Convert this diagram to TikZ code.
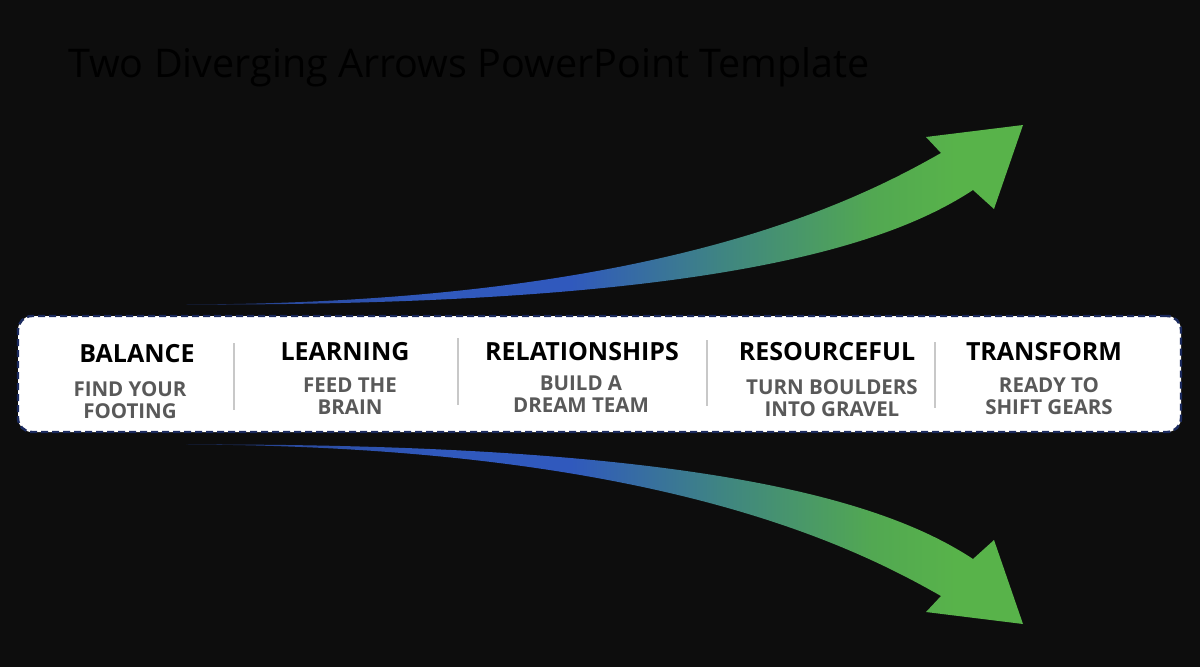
\documentclass[tikz,border=0pt]{standalone}
\usepackage{fontspec}
\setmainfont{Open Sans}
\definecolor{bgc}{HTML}{0D0D0D}
\definecolor{tailc}{HTML}{1A2A5A}
\definecolor{blueA}{HTML}{2A4A9E}
\definecolor{blueB}{HTML}{3059BD}
\definecolor{tealc}{HTML}{3F8582}
\definecolor{greenA}{HTML}{52A852}
\definecolor{greenB}{HTML}{58B34A}
\definecolor{navy}{HTML}{1B2A5E}
\definecolor{subgray}{HTML}{595959}
\definecolor{divgray}{HTML}{C8C8C8}
\pgfdeclarehorizontalshading{arrowgrad}{100bp}{color(0bp)=(tailc); color(25bp)=(tailc); color(31bp)=(blueA); color(40bp)=(blueB); color(48bp)=(blueB); color(57bp)=(tealc); color(66bp)=(greenA); color(71bp)=(greenB); color(100bp)=(greenB)}
\tikzset{
  head/.style={font=\fontsize{25}{29}\selectfont\bfseries, text=black, inner sep=0pt},
  sub/.style={font=\fontsize{20.5}{22}\selectfont\bfseries, text=subgray, align=center, inner sep=0pt},
  divider/.style={draw=divgray, line width=1.2pt},
  arrowshape/.style={shading=arrowgrad, draw=none}
}
\newcommand{\arrowpath}{(186,304.5) .. controls (650,303) and (850,205) .. (941,153) -- (926,137) -- (1023,125) -- (994,209) -- (973,190) .. controls (885,248) and (700,306) .. (186,304.5) -- cycle}
\begin{document}
\begin{tikzpicture}[x=1pt,y=-1pt]
\fill[bgc] (0,0) rectangle (1200,667);
\useasboundingbox (0,0) rectangle (1200,667);
% title
\node (title) [anchor=base west, inner sep=0pt, text=black, font=\fontsize{39.5}{44}\selectfont] at (68,77) {Two Diverging Arrows PowerPoint Template};
% arrows
\path[arrowshape] \arrowpath;
\begin{scope}[shift={(0,749)}, yscale=-1]
\path[arrowshape] \arrowpath;
\end{scope}
% band
\node (band) [fill=white, draw=navy, line width=2.4pt, dash pattern=on 7pt off 4pt, rounded corners=14pt, minimum width=1163pt, minimum height=116pt, inner sep=0pt] at (599.5,374) {};
% dividers
\draw[divider] (234,343) -- (234,410);
\draw[divider] (458,338) -- (458,405);
\draw[divider] (707,340) -- (707,406);
\draw[divider] (935,342) -- (935,408);
% columns
\node (h1) [head] at (137,354) {BALANCE};
\node (s1) [sub] at (130,400) {FIND YOUR\\FOOTING};
\node (h2) [head] at (345,352) {LEARNING};
\node (s2) [sub] at (350,396) {FEED THE\\BRAIN};
\node (h3) [head] at (582,352) {RELATIONSHIPS};
\node (s3) [sub] at (581,394) {BUILD A\\DREAM TEAM};
\node (h4) [head] at (827,352) {RESOURCEFUL};
\node (s4) [sub] at (832,398) {TURN BOULDERS\\INTO GRAVEL};
\node (h5) [head] at (1044,352) {TRANSFORM};
\node (s5) [sub] at (1049,396) {READY TO\\SHIFT GEARS};
\end{tikzpicture}
\end{document}
